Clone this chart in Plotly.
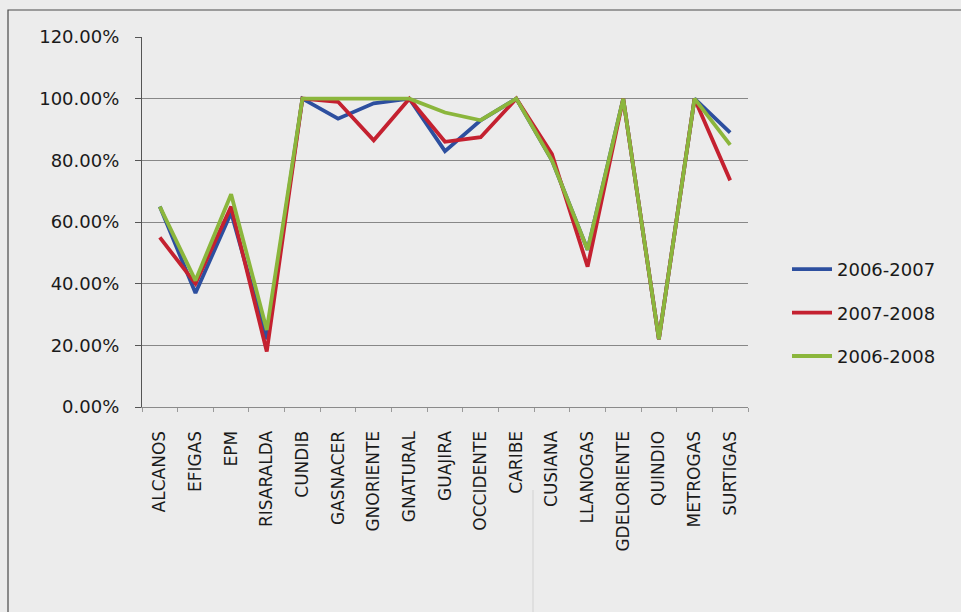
import plotly.graph_objects as go

categories = ["ALCANOS", "EFIGAS", "EPM", "RISARALDA", "CUNDIB", "GASNACER", "GNORIENTE",
              "GNATURAL", "GUAJIRA", "OCCIDENTE", "CARIBE", "CUSIANA", "LLANOGAS",
              "GDELORIENTE", "QUINDIO", "METROGAS", "SURTIGAS"]

s_2006_2007 = [0.65, 0.37, 0.63, 0.22, 1.00, 0.935, 0.985, 1.00, 0.83, 0.93, 1.00, 0.80, 0.51,
               1.00, 0.22, 1.00, 0.89]
s_2007_2008 = [0.55, 0.40, 0.65, 0.18, 1.00, 0.99, 0.865, 1.00, 0.86, 0.875, 1.00, 0.82, 0.455,
               1.00, 0.22, 1.00, 0.735]
s_2006_2008 = [0.65, 0.41, 0.69, 0.25, 1.00, 1.00, 1.00, 1.00, 0.955, 0.93, 1.00, 0.80, 0.51,
               1.00, 0.22, 1.00, 0.85]

series_names = ["2006-2007", "2007-2008", "2006-2008"]
series_values = [s_2006_2007, s_2007_2008, s_2006_2008]
series_colors = ["#2d4f9f", "#c42130", "#8bb63c"]

y_ticks = [0, 0.2, 0.4, 0.6, 0.8, 1.0, 1.2]

FONT = "DejaVu Sans"
TXT = "#1a1a1a"
BG = "#ececec"

fig = go.Figure()
for name, vals, col in zip(series_names, series_values, series_colors):
    fig.add_trace(go.Scatter(
        x=categories, y=vals, name=name, mode="lines",
        line=dict(color=col, width=3.8),
        legendgroup=name,
    ))

L, R, T, B = 142, 748, 37, 407
W, H = 961, 612

def px(x):
    return (x - L) / (R - L)

def py(y):
    return (B - y) / (B - T)

fig.update_layout(
    width=W, height=H,
    margin=dict(l=L, r=W - R, t=T, b=H - B, pad=0),
    paper_bgcolor=BG, plot_bgcolor=BG,
    font=dict(family=FONT, color=TXT, size=17),
    showlegend=True,
    legend=dict(
        x=px(787), xanchor="left", y=py(251), yanchor="top",
        font=dict(family=FONT, size=18, color=TXT),
        bgcolor="rgba(0,0,0,0)", borderwidth=0,
        traceorder="grouped", tracegroupgap=17,
        itemwidth=40,
    ),
    xaxis=dict(
        type="category", categoryorder="array", categoryarray=categories,
        range=[-0.5, len(categories) - 0.5],
        showgrid=False, showline=True, linecolor="#8a8a8a", linewidth=1.2,
        ticks="outside", ticklen=4, tickcolor="#9a9a9a", tickson="boundaries",
        tickangle=-90, tickfont=dict(family=FONT, size=17, color=TXT),
        ticklabelstandoff=16,
        zeroline=False,
    ),
    yaxis=dict(
        range=[0, 1.2], tickvals=y_ticks, tickformat=".2%",
        showgrid=True, gridcolor="#878787", gridwidth=1.2,
        showline=True, linecolor="#555555", linewidth=1.2,
        ticks="outside", ticklen=6, tickcolor="#555555",
        tickfont=dict(family=FONT, size=18, color=TXT),
        ticklabelstandoff=12,
        zeroline=False,
    ),
    shapes=[
        dict(type="rect", xref="paper", yref="paper",
             x0=px(8), x1=px(975), y0=py(640), y1=py(10),
             line=dict(color="#4a4a4a", width=1.2), fillcolor="rgba(0,0,0,0)",
             layer="below"),
        dict(type="line", xref="paper", yref="paper",
             x0=px(533), x1=px(533), y0=py(490), y1=py(612),
             line=dict(color="#d2d2d2", width=1), layer="below"),
    ],
)

fig.write_html("out.html")
